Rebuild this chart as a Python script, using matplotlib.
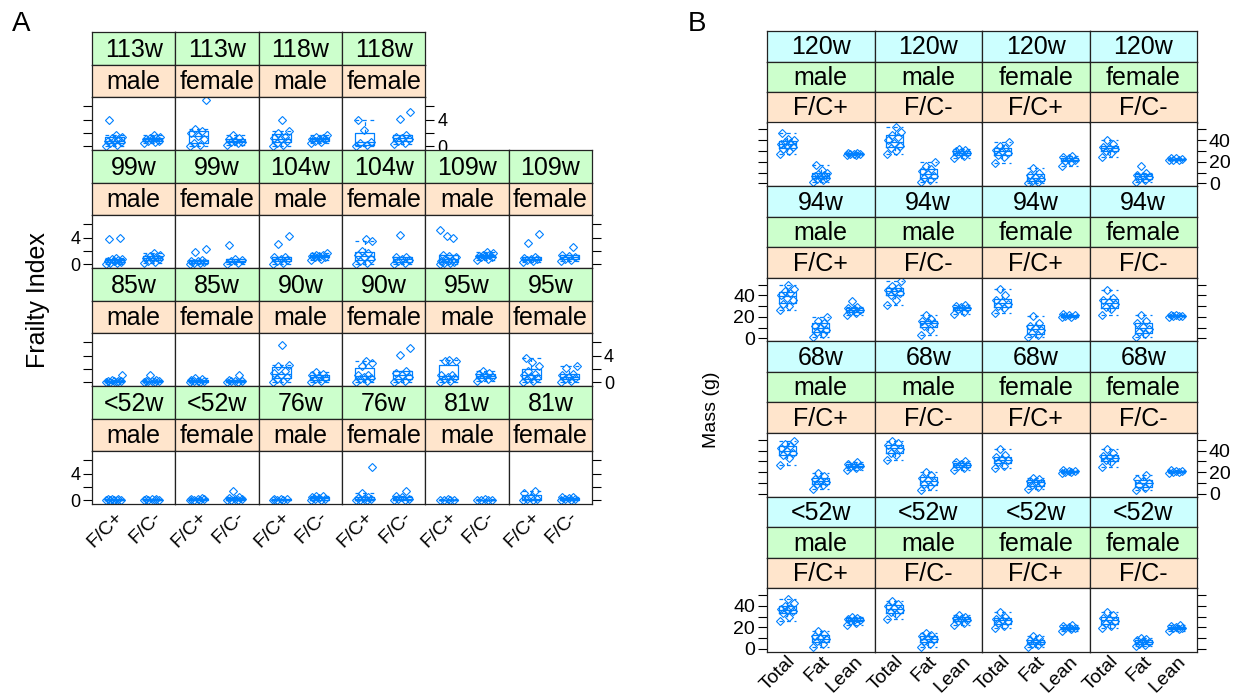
import numpy as np
import matplotlib.pyplot as plt

plt.rcParams['font.family'] = ['Liberation Sans', 'DejaVu Sans']

W, H = 1237, 696
BLUE = '#0080ff'
GREEN = '#ccffcc'
PEACH = '#ffe5cc'
CYAN = '#ccffff'

# ---------------- Panel A: frailty index ----------------
fc_groups = ["F/C+", "F/C-"]
sexes = ["male", "female"]
# each age: male F/C+, male F/C-, female F/C+, female F/C-
fi_113w = [[0.0, 0.2, 0.4, 0.6, 0.8, 0.8, 1.0, 1.2, 1.4, 1.6, 3.9],
           [0.4, 0.6, 0.8, 0.8, 1.0, 1.0, 1.2, 1.2, 1.4, 1.6],
           [0.0, 0.2, 0.5, 1.0, 1.5, 2.0, 2.3, 2.6, 7.0],
           [0.2, 0.4, 0.6, 0.6, 0.8, 1.0, 1.2, 1.6]]
fi_118w = [[0.0, 0.2, 0.5, 0.8, 1.0, 1.2, 1.4, 2.0, 2.3, 3.9],
           [0.4, 0.6, 0.8, 1.0, 1.0, 1.1, 1.2, 1.4, 1.6],
           [0.0, 0.1, 0.5, 0.6, 2.4, 3.9],
           [0.3, 0.5, 0.8, 1.0, 1.2, 1.4, 1.6, 4.1, 5.1]]
fi_99w = [[0.0, 0.1, 0.2, 0.3, 0.4, 0.5, 0.6, 0.7, 0.8, 0.9, 3.8, 4.0],
          [0.1, 0.3, 0.5, 0.7, 0.8, 0.9, 1.0, 1.2, 1.4, 1.6],
          [0.0, 0.1, 0.2, 0.3, 0.4, 0.5, 0.6, 1.8, 2.3],
          [0.0, 0.2, 0.4, 0.6, 0.8, 2.9]]
fi_104w = [[0.0, 0.2, 0.4, 0.6, 0.8, 1.0, 1.1, 3.0, 4.2],
           [0.6, 0.8, 1.0, 1.1, 1.2, 1.2, 1.3, 1.4, 1.6],
           [0.0, 0.2, 0.5, 0.8, 1.0, 1.3, 1.6, 1.9, 3.5, 3.8],
           [0.0, 0.2, 0.4, 0.6, 0.8, 1.0, 1.1, 4.4]]
fi_109w = [[0.0, 0.1, 0.2, 0.3, 0.4, 0.5, 0.6, 0.8, 1.0, 1.2, 1.4, 3.9, 4.3, 5.1],
           [0.6, 0.8, 1.0, 1.1, 1.2, 1.2, 1.3, 1.4, 1.6, 1.8],
           [0.3, 0.5, 0.6, 0.7, 0.8, 0.9, 1.0, 3.2, 4.6],
           [0.4, 0.6, 0.8, 1.0, 1.2, 1.4, 2.6]]
fi_85w = [[0.0, 0.0, 0.0, 0.1, 0.1, 0.2, 0.2, 0.3, 1.1],
          [0.0, 0.0, 0.1, 0.1, 0.2, 0.2, 0.3, 1.1],
          [0.0, 0.0, 0.1, 0.1, 0.2, 0.3, 0.5, 0.6],
          [0.0, 0.0, 0.1, 0.1, 0.2, 0.3, 1.1]]
fi_90w = [[0.0, 0.2, 0.5, 0.8, 1.0, 1.3, 1.6, 2.4, 2.6, 5.6],
          [0.0, 0.2, 0.4, 0.6, 0.8, 1.0, 1.2, 1.5],
          [0.0, 0.2, 0.4, 0.6, 0.8, 1.0, 1.1, 2.4, 2.9, 3.2],
          [0.0, 0.2, 0.4, 0.7, 1.0, 1.3, 1.6, 4.1, 5.2]]
fi_95w = [[0.0, 0.2, 0.4, 0.6, 0.8, 1.0, 1.1, 3.1, 3.2, 3.3],
          [0.2, 0.4, 0.6, 0.8, 1.0, 1.2, 1.4, 1.6],
          [0.0, 0.2, 0.4, 0.6, 0.8, 1.0, 1.2, 1.6, 2.4, 3.0, 3.6],
          [0.0, 0.2, 0.4, 0.6, 0.8, 1.0, 1.2, 2.1, 2.4]]
fi_lt52w = [[0.0, 0.0, 0.0, 0.0, 0.05, 0.1, 0.1, 0.2],
            [0.0, 0.0, 0.0, 0.05, 0.1, 0.1, 0.2],
            [0.0, 0.0, 0.0, 0.1, 0.1, 0.2, 0.3],
            [0.0, 0.0, 0.0, 0.1, 0.1, 0.3, 0.5, 1.4]]
fi_76w = [[0.0, 0.0, 0.0, 0.1, 0.1, 0.2],
          [0.0, 0.0, 0.1, 0.2, 0.3, 0.5, 0.6, 0.6],
          [0.0, 0.0, 0.0, 0.1, 0.2, 0.3, 0.5, 1.0, 5.0],
          [0.0, 0.0, 0.1, 0.2, 0.4, 0.6, 1.4]]
fi_81w = [[0.0, 0.0, 0.0, 0.05, 0.1],
          [0.0, 0.0, 0.0, 0.05, 0.1],
          [0.0, 0.0, 0.1, 0.2, 0.4, 1.0, 1.4],
          [0.0, 0.0, 0.1, 0.2, 0.3, 0.4, 0.5]]

rows_a = [[("113w", fi_113w), ("118w", fi_118w)],
          [("99w", fi_99w), ("104w", fi_104w), ("109w", fi_109w)],
          [("85w", fi_85w), ("90w", fi_90w), ("95w", fi_95w)],
          [("<52w", fi_lt52w), ("76w", fi_76w), ("81w", fi_81w)]]
fi_ticks = [0, 2, 4, 6]
fi_ticklabels = ["0", "", "4", ""]

# ---------------- Panel B: body composition ----------------
comp_groups = ["Total", "Fat", "Lean"]
panels_b = [("male", "F/C+"), ("male", "F/C-"), ("female", "F/C+"), ("female", "F/C-")]
# each panel: [total, fat, lean]
mass_120w = [[[27, 30, 32, 34, 35, 36, 37, 38, 40, 41, 47], [1, 3, 4, 5, 6, 7, 8, 9, 10, 12, 17], [26, 26.5, 27, 27, 27.5, 28, 28]],
             [[27, 30, 33, 35, 37, 40, 43, 45, 48, 52], [1, 3, 5, 7, 9, 11, 13, 16, 20], [23, 25, 27, 28, 29, 30, 31, 32]],
             [[19, 24, 26, 28, 30, 31, 33, 35, 38], [0, 1, 2, 4, 6, 8, 10, 14], [16.5, 20, 21, 22, 23, 24, 25]],
             [[24, 28, 30, 32, 33, 34, 36, 40], [1, 3, 4, 6, 7, 8, 10, 16], [21.5, 22, 22, 22.5, 23, 23]]]
mass_94w = [[[26, 30, 32, 36, 38, 40, 42, 44, 46, 50], [1, 4, 6, 8, 10, 12, 14, 16, 20], [22, 24, 25, 26, 27, 28, 29, 34.5]],
            [[31, 36, 40, 42, 44, 45, 47, 49, 53], [3, 8, 12, 14, 15, 16, 18, 22], [23, 25, 27, 28, 29, 30, 31]],
            [[24, 28, 30, 32, 34, 36, 40, 46], [1, 3, 5, 8, 10, 12, 14, 21], [19.5, 20, 21, 21.5, 22, 22.5]],
            [[22, 27, 29, 32, 34, 36, 38, 45], [1, 4, 6, 9, 11, 14, 16, 22], [20, 20.5, 21, 21, 21.5, 22]]]
mass_68w = [[[27, 33, 36, 38, 40, 42, 44, 46, 49], [4, 8, 9, 11, 12, 14, 16, 19], [22, 24, 25, 26, 27, 28, 29]],
            [[31, 36, 38, 41, 43, 45, 47, 49], [3, 7, 9, 11, 13, 15, 17, 20], [22, 24, 26, 27, 28, 29, 30]],
            [[24, 26, 29, 31, 32, 34, 36, 41], [4, 6, 8, 10, 11, 12, 14, 15], [19.5, 20, 20.5, 21, 21.5, 22]],
            [[25, 29, 31, 33, 34, 35, 38, 41], [3, 5, 8, 10, 12, 14, 17], [19.5, 20, 20.5, 21, 21.5, 22]]]
mass_lt52w = [[[26, 30, 33, 35, 36, 37, 38, 40, 43, 46], [2, 5, 7, 9, 10, 12, 14, 17], [22, 24, 26, 27, 27, 28, 29, 30]],
              [[28, 32, 34, 36, 38, 40, 42, 44.5], [2, 5, 7, 9, 10, 12, 13, 15], [22, 24, 26, 27, 28, 29, 30, 31]],
              [[19, 21, 24, 26, 27, 28, 30, 34], [2, 4, 5, 6, 7, 8, 10, 12], [16.5, 18, 19, 19.5, 20, 21, 22]],
              [[19, 21, 24, 26, 28, 29, 31, 34], [3, 4, 5, 6, 7, 8, 9, 10], [17, 18, 19, 19.5, 20, 21, 22]]]
rows_b = [("120w", mass_120w), ("94w", mass_94w), ("68w", mass_68w), ("<52w", mass_lt52w)]
mass_ticks = [0, 10, 20, 30, 40, 50]
mass_ticklabels = ["0", "", "20", "", "40", ""]

fig = plt.figure(figsize=(W / 100, H / 100), dpi=100)


def px_axes(x0, y0, x1, y1):
    return fig.add_axes([x0 / W, 1 - y1 / H, (x1 - x0) / W, (y1 - y0) / H])


def strip(x0, y0, x1, y1, text, color):
    ax = px_axes(x0, y0, x1, y1)
    ax.set_facecolor(color)
    ax.set_xticks([])
    ax.set_yticks([])
    for s in ax.spines.values():
        s.set_linewidth(0.9)
        s.set_color('#222222')
    ax.text(0.5, 0.46, text, ha='center', va='center', fontsize=18, transform=ax.transAxes)


def draw_groups(ax, groups, box_w):
    pos = np.arange(1, len(groups) + 1)
    dash = (0, (3, 3))
    ax.boxplot(groups, positions=pos, widths=box_w, capwidths=box_w, showfliers=False,
               manage_ticks=False,
               boxprops=dict(color=BLUE, lw=0.9),
               whiskerprops=dict(color=BLUE, lw=0.9, ls=dash),
               capprops=dict(color=BLUE, lw=0.9, ls=dash),
               medianprops=dict(color=BLUE, lw=0.9))
    for p, vals in zip(pos, groups):
        n = len(vals)
        offs = ((np.arange(n) * 0.618034) % 1 - 0.5) * box_w * 0.9
        ax.plot(p + offs, vals, ls='none', marker='D', ms=3.8, mfc='none', mec=BLUE, mew=0.8)


def data_axes(x0, y0, x1, y1, xlim, ylim, ticks, ticklabels, left, right, label_side, fs):
    ax = px_axes(x0, y0, x1, y1)
    ax.set_xlim(xlim)
    ax.set_ylim(ylim)
    ax.set_yticks(ticks)
    ax.set_yticklabels(ticklabels)
    ax.tick_params(axis='y', left=left, right=right,
                   labelleft=left and label_side == 'left',
                   labelright=right and label_side == 'right',
                   length=6.5, width=0.8, labelsize=fs, direction='out', pad=2)
    ax.tick_params(axis='x', bottom=False, labelbottom=False)
    for s in ax.spines.values():
        s.set_linewidth(0.9)
        s.set_color('#222222')
    return ax


# ---- draw panel A ----
xa0, cwa = 92, 83.33
for r, row in enumerate(rows_a):
    top = 32 + 118 * r
    ncol = len(row) * 2
    side = 'right' if r % 2 == 0 else 'left'
    c = 0
    for age, vals in row:
        for si, sex in enumerate(sexes):
            x0 = xa0 + c * cwa
            x1 = x0 + cwa
            strip(x0, top, x1, top + 33, age, GREEN)
            strip(x0, top + 33, x1, top + 65, sex, PEACH)
            ax = data_axes(x0, top + 65, x1, top + 118, (0.4, 2.6), (-0.6, 7.4),
                           fi_ticks, fi_ticklabels, c == 0, c == ncol - 1, side, 13)
            draw_groups(ax, vals[2 * si:2 * si + 2], 0.5)
            if r == len(rows_a) - 1:
                ax.set_xticks([1, 2])
                ax.set_xticklabels(fc_groups, rotation=45, ha='right', va='top',
                                   rotation_mode='anchor')
                ax.tick_params(axis='x', labelbottom=True, length=0, pad=3, labelsize=14)
            c += 1

fig.text(38 / W, 1 - 300 / H, "Frailty Index", rotation=90, ha='center', va='center', fontsize=18)
fig.text(21 / W, 1 - 24 / H, "A", ha='center', va='center', fontsize=20)

# ---- draw panel B ----
xb0, cwb = 767, 107.5
for r, (age, panels) in enumerate(rows_b):
    top = 31 + 155.2 * r
    side = 'right' if r % 2 == 0 else 'left'
    for c, (sex, geno) in enumerate(panels_b):
        x0 = xb0 + c * cwb
        x1 = x0 + cwb
        strip(x0, top, x1, top + 30.5, age, CYAN)
        strip(x0, top + 30.5, x1, top + 61, sex, GREEN)
        strip(x0, top + 61, x1, top + 91.5, geno, PEACH)
        ax = data_axes(x0, top + 91.5, x1, top + 155.2, (0.4, 3.6), (-2.7, 56.4),
                       mass_ticks, mass_ticklabels, c == 0, c == 3, side, 14)
        draw_groups(ax, panels[c], 0.5)
        if r == len(rows_b) - 1:
            ax.set_xticks([1, 2, 3])
            ax.set_xticklabels(comp_groups, rotation=45, ha='right', va='top',
                               rotation_mode='anchor')
            ax.tick_params(axis='x', labelbottom=True, length=0, pad=0.5, labelsize=14)

fig.text(712 / W, 1 - 410 / H, "Mass (g)", rotation=90, ha='center', va='center', fontsize=14)
fig.text(697 / W, 1 - 24 / H, "B", ha='center', va='center', fontsize=20)

fig.savefig("out.png", dpi=100)
